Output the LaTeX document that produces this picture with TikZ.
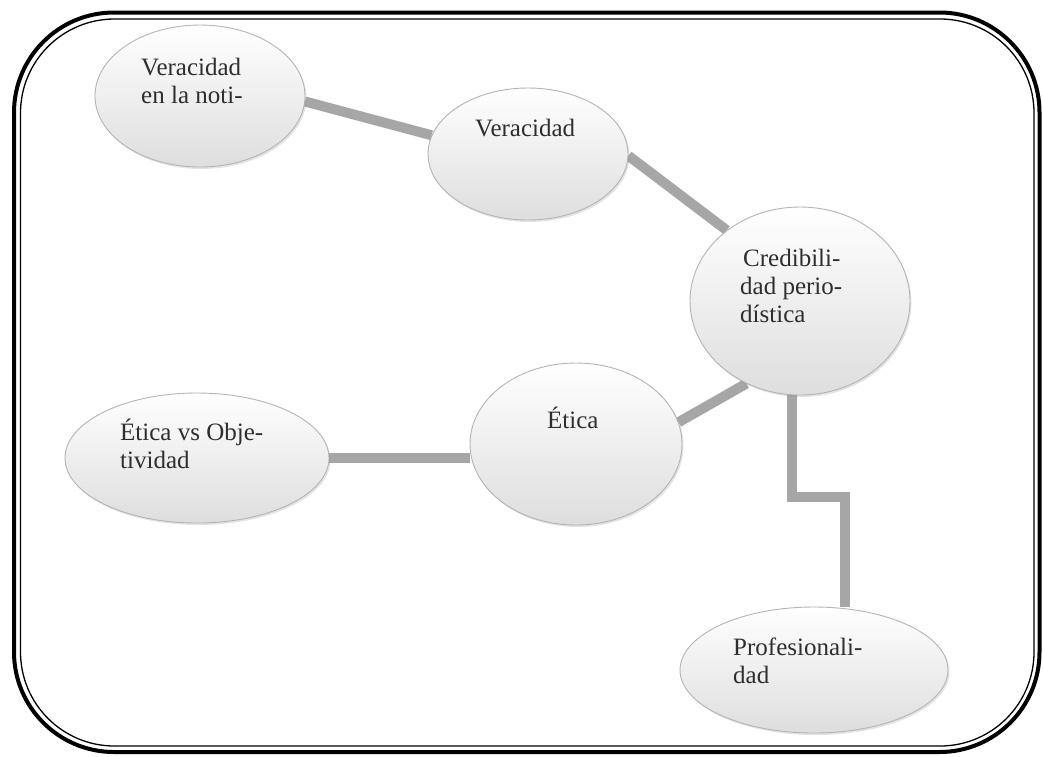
\documentclass[tikz,border=0pt]{standalone}
\usepackage{fontspec}
\setmainfont{Liberation Serif}
\newfontfamily\bubbleface{Liberation Serif}
\usetikzlibrary{shapes.geometric,shadows,backgrounds}
\definecolor{linkgray}{HTML}{A6A6A6}
\definecolor{rimgray}{HTML}{B4B4B4}
\tikzset{
  bubble/.style args={#1 and #2}{ellipse, inner sep=0pt,
    minimum width=#1, minimum height=#2,
    top color=white, bottom color=black!13, draw=rimgray, line width=0.9pt,
    drop shadow={opacity=0.22, shadow xshift=1.5pt, shadow yshift=-2pt}},
  label text/.style={anchor=base west, align=left, inner sep=0pt,
    font=\bubbleface\fontsize{25}{28}\selectfont, text=black!82},
  link/.style={draw=linkgray, line width=10pt, line cap=butt, line join=miter},
  frame outer/.style={line width=4pt, rounded corners=100pt},
  frame inner/.style={line width=1.3pt, rounded corners=94pt}
}
\begin{document}
\begin{tikzpicture}[x=1pt, y=-1pt]
  \useasboundingbox (0,0) rectangle (1043,756);

  % double-line rounded frame
  \draw[frame outer] (14,12.5) rectangle (1039.5,752);
  \draw[frame inner] (20.5,19) rectangle (1034,746);

  % topic bubbles
  \node[bubble={210pt and 142pt}] (vn)  at (200,96)  {};
  \node[bubble={200pt and 132pt}] (ver) at (528,154) {};
  \node[bubble={220pt and 188pt}] (cre) at (800,301) {};
  \node[bubble={212pt and 162pt}] (eti) at (576,444) {};
  \node[bubble={264pt and 130pt}] (evo) at (197,458) {};
  \node[bubble={268pt and 126pt}] (pro) at (814,670) {};

  % bubble texts (base anchor sits on the last line)
  \node[label text] (tvn)  at (141,103) {Veracidad\\en la noti-};
  \node[label text] (tver) at (475,136) {Veracidad};
  \node[label text] (tcre) at (740,322) {\hspace{3pt}Credibili-\\dad perio-\\dística};
  \node[label text] (teti) at (547,428) {Ética};
  \node[label text] (tevo) at (120,468) {Ética vs Obje-\\tividad};
  \node[label text] (tpro) at (733,683) {Profesionali-\\dad};

  % connectors behind the bubbles
  \coordinate (bend) at (845,497);
  \begin{pgfonlayer}{background}
    \draw[link] (vn.-3) -- (ver.169);
    \draw[link] (ver.-1) -- (cre.136);
    \draw[link] (eti.12) -- (cre.-123);
    \draw[link] (evo.east) -- (evo.east -| eti.west);
    \draw[link] (cre.-95) |- (bend) -- (bend |- pro.north);
  \end{pgfonlayer}
\end{tikzpicture}
\end{document}
